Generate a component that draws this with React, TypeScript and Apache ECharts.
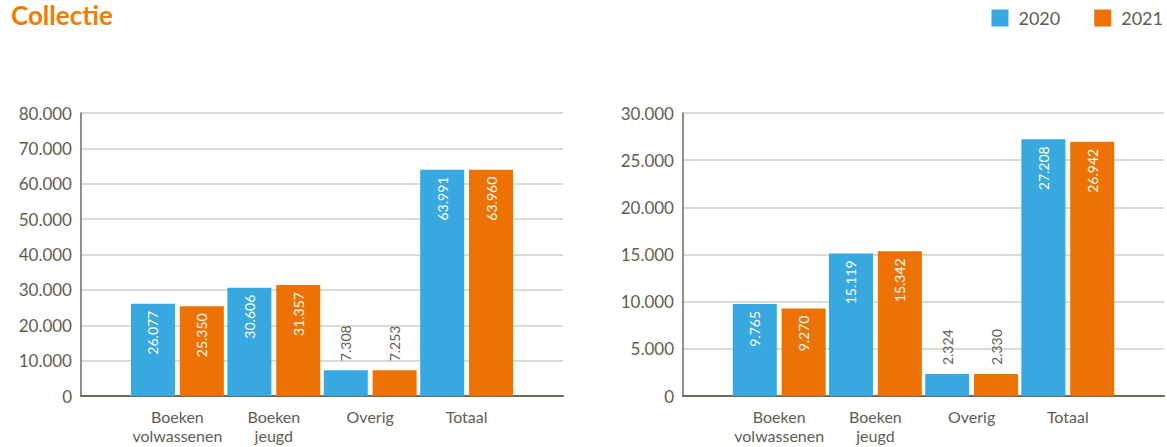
import React, { useEffect, useRef } from "react";
import * as echarts from "echarts";

const categories = ["Boeken\nvolwassenen", "Boeken\njeugd", "Overig", "Totaal"];
const seriesNames = ["2020", "2021"];
const left2020 = [26077, 30606, 7308, 63991];
const left2021 = [25350, 31357, 7253, 63960];
const right2020 = [9765, 15119, 2324, 27208];
const right2021 = [9270, 15342, 2330, 26942];
const leftMax = 80000;
const leftInterval = 10000;
const rightMax = 30000;
const rightInterval = 5000;

const BLUE = "#38a8e0";
const ORANGE = "#ee7203";
const TEXT = "#5e5e4e";
const FONT = "Lato, 'Open Sans', sans-serif";

const fmt = (v: number) => {
  const s = String(Math.round(v));
  return s.replace(/\B(?=(\d{3})+(?!\d))/g, ".");
};

const paddedCats = ["", ...categories, ""];

function barData(vals: number[], max: number) {
  const items = vals.map((v) => {
    const outside = v / max < 0.15;
    return outside
      ? {
          value: v,
          label: {
            position: "top",
            align: "left",
            color: TEXT,
            distance: 9,
          },
        }
      : { value: v };
  });
  return [null, ...items, null];
}

function makeSeries(name: string, vals: number[], max: number, color: string, idx: number) {
  return {
    name,
    type: "bar",
    xAxisIndex: idx,
    yAxisIndex: idx,
    barWidth: 44,
    barGap: "11%",
    itemStyle: { color },
    label: {
      show: true,
      rotate: 90,
      position: "insideTop",
      align: "right",
      verticalAlign: "middle",
      distance: 7,
      color: "#ffffff",
      fontFamily: FONT,
      fontSize: 14,
      formatter: (p: any) => fmt(p.value),
    },
    data: barData(vals, max),
  };
}

export default function App() {
  const ref = useRef<HTMLDivElement>(null);
  useEffect(() => {
    document.body.style.margin = "0";
    if (!ref.current) return;
    const chart = echarts.init(ref.current, null, { renderer: "svg" });
    const xAxisBase = {
      type: "category",
      data: paddedCats,
      boundaryGap: false,
      axisTick: { show: false },
      axisLine: { show: true, lineStyle: { color: "#6b6b5a", width: 2 } },
      axisLabel: {
        interval: 0,
        color: TEXT,
        fontFamily: FONT,
        fontSize: 16,
        lineHeight: 19,
        margin: 11,
      },
      splitLine: { show: false },
    };
    const yAxisBase = (max: number, interval: number) => ({
      type: "value",
      min: 0,
      max,
      interval,
      axisLine: { show: true, lineStyle: { color: "#6b6b5a", width: 1.5 } },
      axisTick: { show: false },
      axisLabel: {
        color: TEXT,
        fontFamily: FONT,
        fontSize: 17,
        margin: 9,
        formatter: (v: number) => fmt(v),
      },
      splitLine: { show: true, lineStyle: { color: "#cfcfc7", width: 1.5 } },
    });
    chart.setOption({
      animation: false,
      title: {
        text: "Collectie",
        left: 11,
        top: 2,
        padding: 0,
        textStyle: { color: "#ef7d00", fontFamily: FONT, fontWeight: "bold", fontSize: 26 },
      },
      legend: {
        data: seriesNames,
        orient: "horizontal",
        right: 4,
        top: 9,
        padding: 0,
        itemWidth: 17,
        itemHeight: 17,
        itemGap: 34,
        icon: "rect",
        textStyle: { color: TEXT, fontFamily: FONT, fontSize: 18, padding: [0, 0, 0, 5] },
      },
      grid: [
        { left: 81, top: 113, width: 482, height: 283 },
        { left: 683, top: 113, width: 483, height: 283 },
      ],
      xAxis: [
        { ...xAxisBase, gridIndex: 0 },
        { ...xAxisBase, gridIndex: 1 },
      ],
      yAxis: [
        { ...yAxisBase(leftMax, leftInterval), gridIndex: 0 },
        { ...yAxisBase(rightMax, rightInterval), gridIndex: 1 },
      ],
      series: [
        makeSeries(seriesNames[0], left2020, leftMax, BLUE, 0),
        makeSeries(seriesNames[1], left2021, leftMax, ORANGE, 0),
        makeSeries(seriesNames[0], right2020, rightMax, BLUE, 1),
        makeSeries(seriesNames[1], right2021, rightMax, ORANGE, 1),
      ],
    });
    return () => chart.dispose();
  }, []);
  return <div ref={ref} style={{ width: 1167, height: 447 }} />;
}
